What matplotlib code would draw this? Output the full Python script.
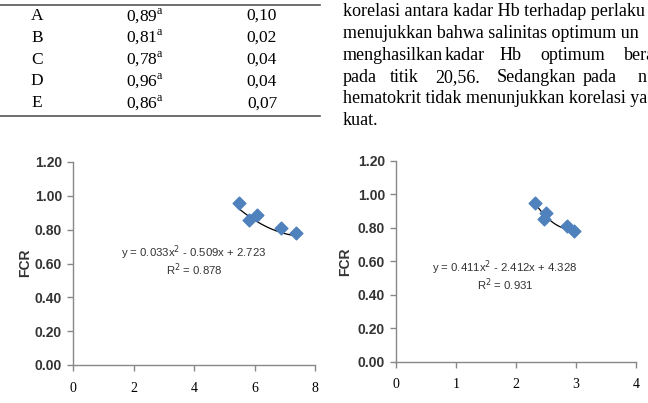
import matplotlib
matplotlib.use("Agg")
import matplotlib.pyplot as plt
import numpy as np

# ---- data ----
table_rows = ["A", "B", "C", "D", "E"]
table_means = ["0,89", "0,81", "0,78", "0,96", "0,86"]
table_sd = ["0,10", "0,02", "0,04", "0,04", "0,07"]

left_x = [5.50, 5.82, 6.07, 6.88, 7.37]
left_y = [0.955, 0.855, 0.885, 0.808, 0.780]
left_coef = [0.033, -0.509, 2.723]
left_eq = "y = 0.033x$^2$ - 0.509x + 2.723"
left_r2 = "R$^2$ = 0.878"

right_x = [2.32, 2.47, 2.50, 2.85, 2.96]
right_y = [0.950, 0.850, 0.885, 0.810, 0.780]
right_coef = [0.411, -2.412, 4.328]
right_eq = "y = 0.411x$^2$ - 2.412x + 4.328"
right_r2 = "R$^2$ = 0.931"

yticks = [0.0, 0.2, 0.4, 0.6, 0.8, 1.0, 1.2]
left_xticks = [0, 2, 4, 6, 8]
right_xticks = [0, 1, 2, 3, 4]

W, H = 648, 403
fig = plt.figure(figsize=(W / 100, H / 100), dpi=100)

def fx(px):
    return px / W

def fy(py):
    return 1 - py / H

serif = "Liberation Serif"

# ---- table ----
fig.add_artist(plt.Line2D([fx(0), fx(320)], [fy(5), fy(5)], color="#555555", lw=1.2))
fig.add_artist(plt.Line2D([fx(0), fx(320)], [fy(116), fy(116)], color="#555555", lw=1.2))
for i, (r, m, s) in enumerate(zip(table_rows, table_means, table_sd)):
    yy = fy(16 + i * 21.8)
    fig.text(fx(37), yy, r, fontsize=12.5, family=serif, ha="center", va="center")
    fig.text(fx(126), yy, m + "$^{\\mathregular{a}}$", fontsize=12.5, family=serif, ha="left", va="center")
    fig.text(fx(262), yy, s, fontsize=12.5, family=serif, ha="center", va="center")

# ---- paragraph text ----
para = [
    [(343, "korelasi antara kadar Hb terhadap perlaku")],
    [(343, "menujukkan bahwa salinitas optimum un")],
    [(343, "menghasilkan"), (445, "kadar"), (500, "Hb"), (540, "optimum"), (624, "bera")],
    [(343, "pada"), (390, "titik"), (435, "20,56."), (497, "Sedangkan"), (583, "pada"), (638, "n")],
    [(343, "hematokrit tidak menunjukkan korelasi ya")],
    [(343, "kuat.")],
]
for i, line in enumerate(para):
    yy = fy(12 + i * 21.7)
    for px, w in line:
        fig.text(fx(px), yy, w, fontsize=13, family=serif, ha="left", va="center")

# ---- charts ----
def make_chart(rect, xs, ys, coef, xticks, eq, r2, eqpos, ylab_px):
    ax = fig.add_axes(rect)
    ax.scatter(xs, ys, marker="D", s=42, color="#4F81BD", edgecolor="#4F81BD", zorder=3)
    xx = np.linspace(min(xs), max(xs), 100)
    ax.plot(xx, np.polyval(coef, xx), color="black", lw=0.9, zorder=2)
    ax.set_xlim(xticks[0], xticks[-1])
    ax.set_ylim(0, 1.2)
    ax.set_yticks(yticks)
    ax.set_yticklabels([f"{v:.2f}" for v in yticks], fontsize=10, fontweight="bold",
                       family="Liberation Sans", color="#333333")
    ax.set_xticks(xticks)
    ax.set_xticklabels([str(v) for v in xticks], fontsize=10, family=serif)
    for s in ["top", "right"]:
        ax.spines[s].set_visible(False)
    for s in ["left", "bottom"]:
        ax.spines[s].set_color("#888888")
        ax.spines[s].set_linewidth(1.0)
    ax.tick_params(direction="out", length=4, color="#888888", width=1.0)
    ax.tick_params(axis="y", pad=4)
    ax.tick_params(axis="x", pad=8)
    fig.text(fx(eqpos[0]), fy(eqpos[1]), eq, fontsize=8.2, family="Liberation Sans",
             ha="center", va="center", color="#333333")
    fig.text(fx(eqpos[0]), fy(eqpos[1] + 17), r2, fontsize=8.2, family="Liberation Sans",
             ha="center", va="center", color="#333333")
    fig.text(fx(ylab_px[0]), fy(ylab_px[1]), "FCR", fontsize=10, fontweight="bold",
             family="Liberation Sans", rotation=90, ha="center", va="center", color="#333333")
    return ax

make_chart([fx(73), fy(365), (315 - 73) / W, (365 - 162) / H],
           left_x, left_y, left_coef, left_xticks, left_eq, left_r2, (194, 253), (25, 263))
make_chart([fx(396), fy(361.7), (636 - 396) / W, (361.7 - 160.7) / H],
           right_x, right_y, right_coef, right_xticks, right_eq, right_r2, (505, 268), (345, 262))

fig.savefig("out.png", dpi=100)
